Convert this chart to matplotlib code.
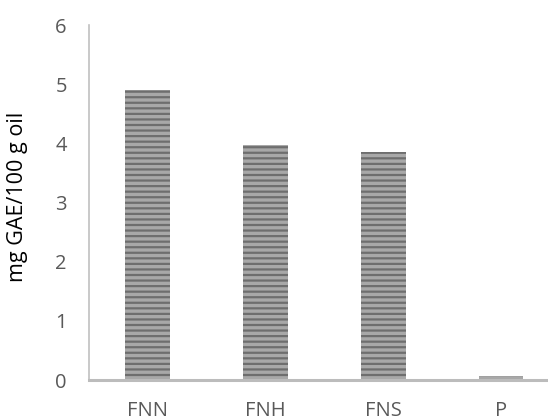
import matplotlib
matplotlib.use("Agg")
import matplotlib.pyplot as plt

categories = ["FNN", "FNH", "FNS", "P"]
values = [4.90, 3.97, 3.85, 0.07]

plt.rcParams['font.family'] = ['Open Sans', 'DejaVu Sans']
plt.rcParams['hatch.linewidth'] = 1.6

fig = plt.figure(figsize=(5.48, 4.2), dpi=100)
ax = fig.add_axes([0.1624, 0.0952, 0.8595, 0.845])

x = range(len(categories))
ax.bar(x, values, width=0.38, color='#a8a8a8', edgecolor='#6e6e6e',
       linewidth=0, hatch='---')

ax.set_xlim(-0.5, len(categories) - 0.5)
ax.set_ylim(0, 6)
ax.set_yticks(range(0, 7))
ax.set_xticks(list(x))
ax.set_xticklabels(categories)

for s in ['top', 'right']:
    ax.spines[s].set_visible(False)
ax.spines['left'].set_color('#c0c0c0')
ax.spines['left'].set_linewidth(1.2)
ax.spines['bottom'].set_color('#bcbcbc')
ax.spines['bottom'].set_linewidth(2.2)

ax.tick_params(axis='both', length=0, labelsize=14.5, labelcolor='#595959')
ax.tick_params(axis='y', pad=16)
ax.tick_params(axis='x', pad=15)

ax.set_ylabel('mg GAE/100 g oil', fontsize=15.5, color='black')
ax.yaxis.set_label_coords(-0.13, 0.517)

fig.savefig("out.png", dpi=100)
